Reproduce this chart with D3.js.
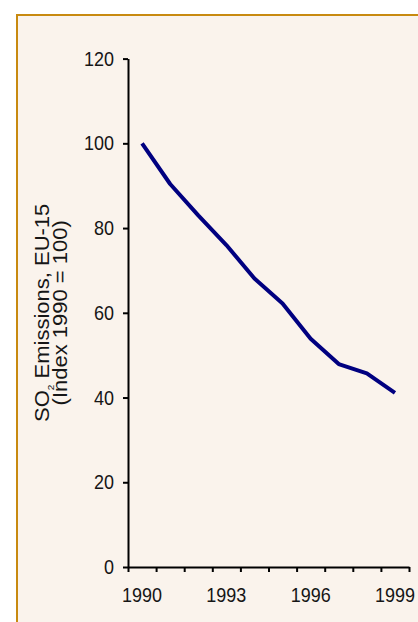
<!DOCTYPE html>
<html>
<head>
<meta charset="utf-8">
<script src="https://cdn.jsdelivr.net/npm/d3@7/dist/d3.min.js"></script>
<style>
  html, body { margin: 0; padding: 0; background: #ffffff; }
  svg { display: block; }
  text { font-family: "Liberation Sans", Arial, sans-serif; fill: #161616; }
</style>
</head>
<body>
<svg id="chart" width="418" height="622"></svg>
<script>
// SO2 emissions, EU-15, indexed to 1990 = 100
const years = [1990, 1991, 1992, 1993, 1994, 1995, 1996, 1997, 1998, 1999];
const so2Index = [100, 90.4, 83.0, 76.0, 68.1, 62.2, 53.9, 47.9, 45.7, 41.1];
const yTicks = [0, 20, 40, 60, 80, 100, 120];
const xLabelYears = [1990, 1993, 1996, 1999];

const svg = d3.select("#chart");
const textScaleX = 0.877;   // labels are set slightly condensed

// panel frame
svg.append("rect")
  .attr("x", 17).attr("y", 15)
  .attr("width", 440).attr("height", 640)
  .attr("fill", "#FAF3EC")
  .attr("stroke", "#C88A10")
  .attr("stroke-width", 2);

const plot = { left: 128, right: 409, top: 58.6, bottom: 567 };

const y = d3.scaleLinear().domain([0, 120]).range([plot.bottom, plot.top]);
const x = d3.scaleBand().domain(years).range([plot.left, plot.right]).padding(0);
const xEdge = d3.scaleLinear().domain([0, years.length]).range([plot.left, plot.right]);

// y axis
const gy = svg.append("g")
  .attr("transform", `translate(${plot.left},0)`)
  .call(d3.axisLeft(y).tickValues(yTicks).tickSize(5).tickPadding(11).tickSizeOuter(0));
gy.select(".domain").attr("stroke", "#000").attr("stroke-width", 2);
gy.selectAll(".tick line").attr("stroke", "#000").attr("stroke-width", 2);
gy.selectAll(".tick text")
  .attr("font-size", 20.5)
  .attr("transform", `scale(${textScaleX},1)`)
  .attr("fill", "#161616");

// x axis: tick marks on category edges
const gxTicks = svg.append("g")
  .attr("transform", `translate(0,${plot.bottom})`)
  .call(d3.axisBottom(xEdge).ticks(years.length).tickSize(5).tickFormat("").tickSizeOuter(0));
gxTicks.select(".domain").attr("stroke", "#000").attr("stroke-width", 2);
gxTicks.selectAll(".tick line").attr("stroke", "#000").attr("stroke-width", 2);

// x axis: year labels centred in their categories
const gxLabels = svg.append("g")
  .attr("transform", `translate(0,${plot.bottom})`)
  .call(d3.axisBottom(x).tickValues(xLabelYears).tickSize(0).tickPadding(20).tickFormat(d3.format("d")));
gxLabels.select(".domain").remove();
gxLabels.selectAll(".tick text")
  .attr("font-size", 20.5)
  .attr("transform", `scale(${textScaleX},1)`)
  .attr("fill", "#161616");

// emissions line
const line = d3.line()
  .x((d, i) => x(years[i]) + x.bandwidth() / 2)
  .y(d => y(d));
svg.append("path")
  .datum(so2Index)
  .attr("fill", "none")
  .attr("stroke", "#000080")
  .attr("stroke-width", 4)
  .attr("stroke-linejoin", "round")
  .attr("d", line);

// y axis title (two lines, rotated)
const midY = (plot.top + plot.bottom) / 2;
const t1 = svg.append("text")
  .attr("transform", `translate(49,${midY}) rotate(-90) scale(1,${textScaleX})`)
  .attr("text-anchor", "middle")
  .attr("font-size", 22);
t1.append("tspan").text("SO");
t1.append("tspan").attr("font-size", 10).attr("dy", 6).text("2");
t1.append("tspan").attr("dy", -6).text(" Emissions, EU-15");

svg.append("text")
  .attr("transform", `translate(67,${midY}) rotate(-90) scale(1,${textScaleX})`)
  .attr("text-anchor", "middle")
  .attr("font-size", 22)
  .text("(Index 1990 = 100)");
</script>
</body>
</html>
